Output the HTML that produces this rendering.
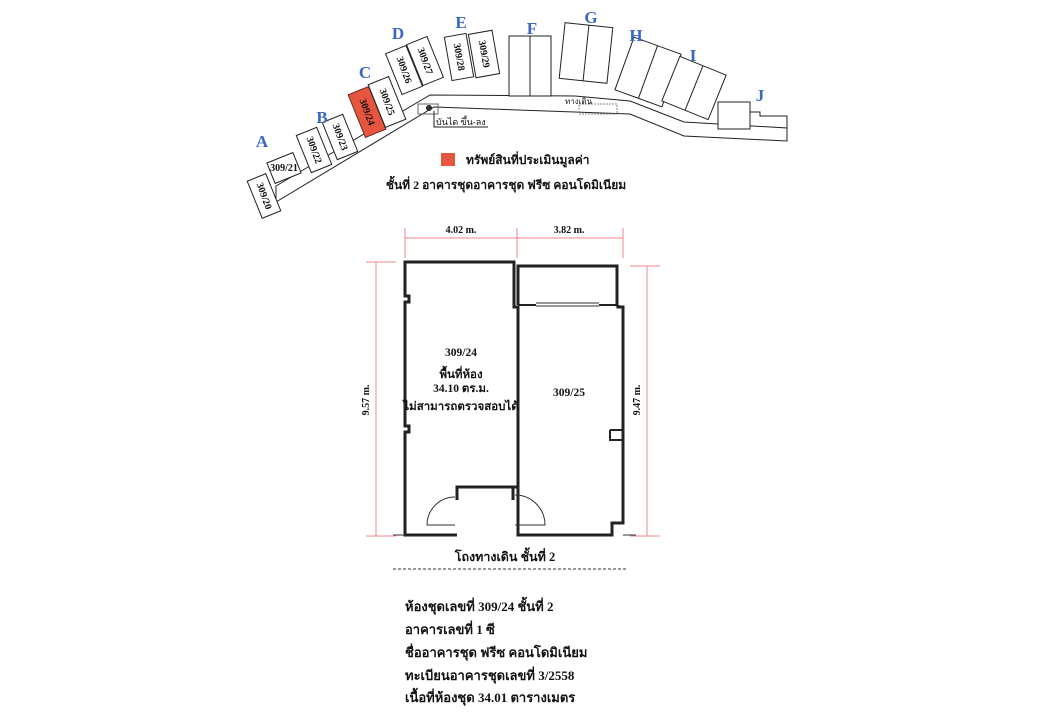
<!DOCTYPE html>
<html><head><meta charset="utf-8"><style>
html,body{margin:0;padding:0;background:#fff;width:1040px;height:720px;overflow:hidden}
svg{display:block}
.t{font-family:"Liberation Serif","DejaVu Serif",serif;font-weight:bold;fill:#111}
.L{font-family:"Liberation Serif",serif;font-weight:bold;fill:#3a66c4;font-size:17px}
</style></head><body>
<svg width="1040" height="720" viewBox="0 0 1040 720" xmlns="http://www.w3.org/2000/svg">
<g fill="none" stroke="#222" stroke-width="1">
<path d="M276,186 L430,95 L575,96 L630,101 L684,122 L787,128 L787,141 L684,136 L630,114 L434,107 L276,202 Z" fill="#fff"/>
<g transform="translate(264,196) rotate(-22)"><rect x="-10" y="-20" width="20" height="40" fill="#fff"/></g>
<g transform="translate(284,168) rotate(-22)"><rect x="-14" y="-11" width="28" height="22" fill="#fff"/></g>
<g transform="translate(314,150) rotate(-22)"><rect x="-11" y="-20" width="22" height="40" fill="#fff"/></g>
<g transform="translate(340,137) rotate(-22)"><rect x="-11" y="-20" width="22" height="40" fill="#fff"/></g>
<g transform="translate(367,112) rotate(-22)"><rect x="-11" y="-23" width="22" height="46" fill="#e8553f" stroke="#6a2a20"/></g>
<g transform="translate(387,102) rotate(-22)"><rect x="-11" y="-23" width="22" height="46" fill="#fff"/></g>
<g transform="translate(404,70) rotate(-22)"><rect x="-11" y="-22" width="22" height="44" fill="#fff"/></g>
<g transform="translate(425,61) rotate(-22)"><rect x="-11" y="-22" width="22" height="44" fill="#fff"/></g>
<g transform="translate(459,57) rotate(-10)"><rect x="-11" y="-22" width="22" height="44" fill="#fff"/></g>
<g transform="translate(484,54) rotate(-10)"><rect x="-12" y="-22" width="24" height="44" fill="#fff"/></g>
<rect x="509" y="36" width="42" height="60" fill="#fff"/><line x1="530" y1="36" x2="530" y2="96"/>
<g transform="translate(586,53) rotate(6)"><rect x="-24" y="-28" width="48" height="56" fill="#fff"/><line x1="0" y1="-28" x2="0" y2="28"/></g>
<g transform="translate(648,72) rotate(20)"><rect x="-25" y="-28" width="50" height="56" fill="#fff"/><line x1="0" y1="-28" x2="0" y2="28"/></g>
<g transform="translate(694,88) rotate(22)"><rect x="-25" y="-24" width="50" height="48" fill="#fff"/><line x1="0" y1="-24" x2="0" y2="24"/></g>
<rect x="718" y="102" width="32" height="27" fill="#fff"/>
<path d="M750,112 L760,112 L760,116 L787,116 L787,128" />
<rect x="579" y="104" width="38" height="10" stroke="#888" stroke-dasharray="2,1"/>
<rect x="418" y="104" width="20" height="10" stroke="#666"/>
<circle cx="429" cy="108" r="2.5" fill="#333"/>
<path d="M434,111 L434,127 L488,127"/>
</g>
<g class="t" font-size="10">
<text transform="translate(264,196) rotate(70)" text-anchor="middle" dy="3">309/20</text>
<text x="284" y="171" text-anchor="middle">309/21</text>
<text transform="translate(314,150) rotate(70)" text-anchor="middle" dy="3">309/22</text>
<text transform="translate(340,137) rotate(70)" text-anchor="middle" dy="3">309/23</text>
<text transform="translate(367,112) rotate(70)" text-anchor="middle" dy="3">309/24</text>
<text transform="translate(387,102) rotate(70)" text-anchor="middle" dy="3">309/25</text>
<text transform="translate(404,70) rotate(70)" text-anchor="middle" dy="3">309/26</text>
<text transform="translate(425,61) rotate(70)" text-anchor="middle" dy="3">309/27</text>
<text transform="translate(459,57) rotate(80)" text-anchor="middle" dy="3">309/28</text>
<text transform="translate(484,54) rotate(80)" text-anchor="middle" dy="3">309/29</text>
<text x="436" y="125" font-weight="normal" font-size="9">บันได ขึ้น-ลง</text>
<text x="565" y="104" font-weight="normal" font-size="8">ทางเดิน</text>
</g>
<g class="L" text-anchor="middle">
<text x="262" y="147">A</text><text x="322" y="123">B</text><text x="365" y="78">C</text>
<text x="398" y="39">D</text><text x="461" y="28">E</text><text x="532" y="34">F</text>
<text x="591" y="23">G</text><text x="636" y="41">H</text><text x="693" y="61">I</text><text x="760" y="101">J</text>
</g>
<rect x="441" y="153" width="14" height="13" fill="#e8553f"/>
<text class="t" x="466" y="164" font-size="12" font-weight="normal">ทรัพย์สินที่ประเมินมูลค่า</text>
<text class="t" x="506" y="189" font-size="12" text-anchor="middle">ชั้นที่ 2 อาคารชุดอาคารชุด ฟรีซ คอนโดมิเนียม</text>

<g stroke="#e88" stroke-width="1" fill="none">
<line x1="405" y1="238" x2="623" y2="238"/>
<line x1="405" y1="228" x2="405" y2="258"/><line x1="517" y1="228" x2="517" y2="258"/><line x1="623" y1="228" x2="623" y2="258"/>
<line x1="376" y1="262" x2="376" y2="536"/><line x1="366" y1="262" x2="396" y2="262"/><line x1="366" y1="536" x2="396" y2="536"/>
<line x1="647" y1="266" x2="647" y2="536"/><line x1="630" y1="266" x2="660" y2="266"/><line x1="630" y1="536" x2="660" y2="536"/>
</g>
<g class="t" font-size="10">
<text x="461" y="233" text-anchor="middle">4.02 m.</text>
<text x="569" y="233" text-anchor="middle">3.82 m.</text>
<text transform="translate(369,400) rotate(-90)" text-anchor="middle">9.57 m.</text>
<text transform="translate(640,400) rotate(-90)" text-anchor="middle">9.47 m.</text>
</g>
<g fill="none" stroke="#222" stroke-width="3">
<path d="M457,535 L405,535 L405,432 L409,432 L409,426 L405,426 L405,302 L409,302 L409,296 L405,296 L405,262 L514,262 L514,307 L518,307 L518,487 L457,487 L457,500"/>
<path d="M513,500 L513,487 M518,487 L518,535 L612,535 L612,523 L623,523 L623,307 L618,307 L618,305"/>
<path d="M518,305 L518,266 L617,266 L617,305 L618,305"/>
<path d="M610,430 L623,430 M610,430 L610,440 L623,440" stroke-width="2"/>
<path d="M518,305 L536,305 M599,305 L617,305" stroke-width="2"/>
</g>
<g fill="none" stroke="#333" stroke-width="1">
<line x1="536" y1="303" x2="599" y2="303"/><line x1="536" y1="306" x2="599" y2="306"/>
<path d="M455,525 L427,525 A28,28 0 0 1 455,497"/>
<path d="M515,525 L545,525 A30,30 0 0 0 515,495"/>
<line x1="393" y1="535" x2="405" y2="535"/><line x1="623" y1="535" x2="636" y2="535"/>
<line x1="393" y1="569" x2="628" y2="569" stroke-dasharray="3,2"/>
</g>
<g class="t" font-size="11.5" text-anchor="middle">
<text x="461" y="356">309/24</text>
<text x="461" y="378">พื้นที่ห้อง</text>
<text x="461" y="392">34.10 ตร.ม.</text>
<text x="461" y="410">ไม่สามารถตรวจสอบได้</text>
<text x="569" y="396">309/25</text>
<text x="505" y="561" font-size="12.5">โถงทางเดิน ชั้นที่ 2</text>
</g>
<g class="t" font-size="13">
<text x="405" y="611">ห้องชุดเลขที่ 309/24 ชั้นที่ 2</text>
<text x="405" y="634">อาคารเลขที่ 1 ซี</text>
<text x="405" y="657">ชื่ออาคารชุด ฟรีซ คอนโดมิเนียม</text>
<text x="405" y="680">ทะเบียนอาคารชุดเลขที่ 3/2558</text>
<text x="405" y="702">เนื้อที่ห้องชุด 34.01 ตารางเมตร</text>
</g>
</svg>
</body></html>
